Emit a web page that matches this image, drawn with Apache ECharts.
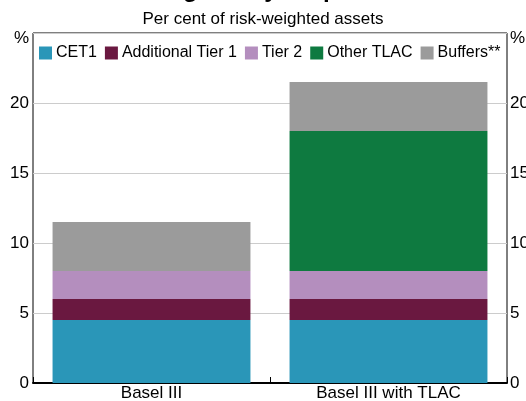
<!DOCTYPE html>
<html>
<head>
<meta charset="utf-8">
<script src="https://cdn.jsdelivr.net/npm/echarts@6/dist/echarts.min.js"></script>
<style>
html,body{margin:0;padding:0;background:#fff;}
#chart{width:526px;height:401px;}
</style>
</head>
<body>
<div id="chart"></div>
<script>
const categories = ['Basel III', 'Basel III with TLAC'];
const cet1 = [4.5, 4.5];
const additionalTier1 = [1.5, 1.5];
const tier2 = [2, 2];
const otherTLAC = [0, 10];
const buffers = [3.5, 3.5];
const seriesNames = ['CET1', 'Additional Tier 1', 'Tier 2', 'Other TLAC', 'Buffers**'];
const seriesColors = ['#2a96b8', '#6a1840', '#b48ebe', '#0e7a40', '#9b9b9b'];
const yTicks = [0, 5, 10, 15, 20, 25];

const FONT = 'Liberation Sans, Arial, sans-serif';
const chart = echarts.init(document.getElementById('chart'), null, {renderer: 'canvas'});

const values = [cet1, additionalTier1, tier2, otherTLAC, buffers];
const series = values.map((v, i) => ({
  name: seriesNames[i],
  type: 'bar',
  stack: 'total',
  barWidth: '83.5%',
  data: v,
  itemStyle: {color: seriesColors[i]},
  emphasis: {disabled: true},
  yAxisIndex: 0
}));

const yLabel = (side) => ({
  show: true,
  fontFamily: FONT,
  fontSize: 17,
  color: '#000',
  margin: side === 'left' ? 4 : 3,
  formatter: (v) => v === yTicks[yTicks.length - 1] ? '{p|%}' : String(v),
  rich: {p: {fontFamily: FONT, fontSize: 17, color: '#000', padding: [10, 0, 0, 0]}}
});

chart.setOption({
  animation: false,
  backgroundColor: '#fff',
  title: [
    {text: 'TLAC Regulatory Requirements', left: 'center', top: -22, padding: 0,
     textStyle: {fontFamily: FONT, fontSize: 24, fontWeight: 'bold', color: '#000'}},
    {text: 'Per cent of risk-weighted assets', left: 'center', top: 10.5, padding: 0,
     textStyle: {fontFamily: FONT, fontSize: 17, fontWeight: 'normal', color: '#000'}}
  ],
  legend: {
    data: seriesNames,
    left: 39, top: 45, padding: 0,
    itemWidth: 13, itemHeight: 13, itemGap: 8,
    icon: 'rect',
    textStyle: {fontFamily: FONT, fontSize: 16, color: '#000', padding: [0, 0, 0, -1]},
    selectedMode: false
  },
  grid: {left: 33, right: 19, top: 33, bottom: 18, show: true, borderColor: '#000', borderWidth: 1,
         containLabel: false, outerBoundsMode: 'none'},
  xAxis: {
    type: 'category',
    data: categories,
    axisLine: {lineStyle: {color: '#000', width: 2}},
    axisTick: {show: true, inside: true, length: 6, lineStyle: {color: '#000'}},
    axisLabel: {fontFamily: FONT, fontSize: 17, color: '#000', margin: 2}
  },
  yAxis: [
    {type: 'value', min: 0, max: 25, interval: 5, position: 'left',
     axisLine: {show: false}, axisTick: {show: false},
     splitLine: {show: true, lineStyle: {color: '#cccccc', width: 1}},
     axisLabel: yLabel('left')},
    {type: 'value', min: 0, max: 25, interval: 5, position: 'right',
     axisLine: {show: false}, axisTick: {show: false},
     splitLine: {show: false},
     axisLabel: yLabel('right')}
  ],
  series: series
});
</script>
</body>
</html>
